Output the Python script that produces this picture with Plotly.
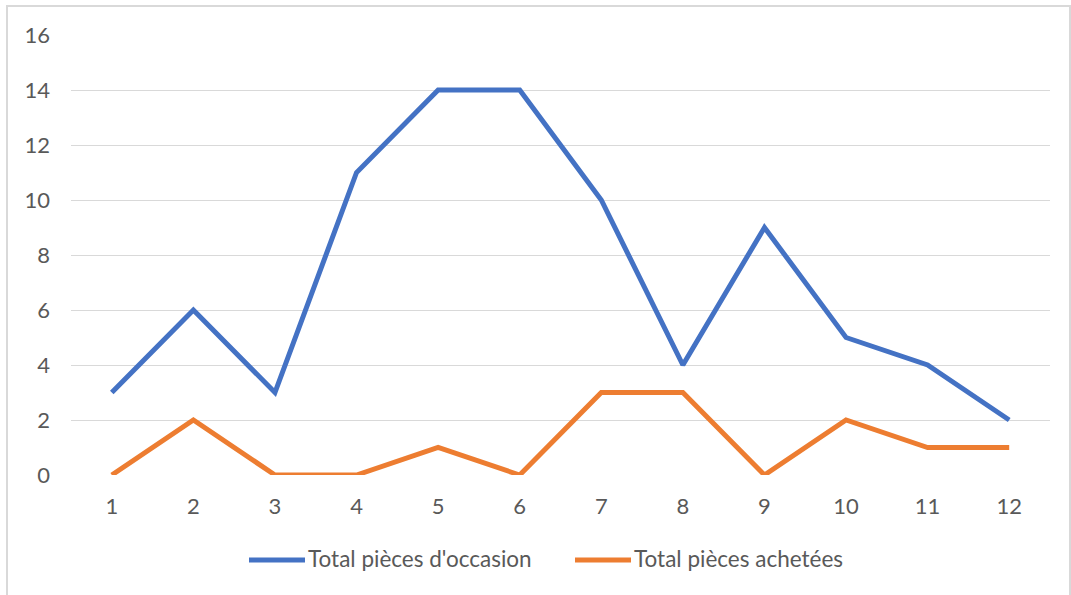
import plotly.graph_objects as go

# Monthly totals
months = ["1", "2", "3", "4", "5", "6", "7", "8", "9", "10", "11", "12"]
occasion = [3, 6, 3, 11, 14, 14, 10, 4, 9, 5, 4, 2]
achetees = [0, 2, 0, 0, 1, 0, 3, 3, 0, 2, 1, 1]
series_names = ["Total pièces d'occasion", "Total pièces achetées"]
series_colors = ["#4472C4", "#ED7D31"]
y_ticks = [0, 2, 4, 6, 8, 10, 12, 14, 16]

W, H = 1071, 595
ML, MR, MT, MB = 71, 21, 35, 120
plot_w = W - ML - MR
plot_h = H - MT - MB
TEXT = "#595959"
FONT = "Lato, 'Open Sans', sans-serif"
TICKFONT = dict(family=FONT, size=22, color=TEXT)


def px_x(px):
    return (px - ML) / plot_w


def px_y(py):
    return (H - MB - py) / plot_h


fig = go.Figure()
for name, vals, col in zip(series_names, [occasion, achetees], series_colors):
    fig.add_trace(go.Scatter(x=months, y=vals, mode="lines", name=name,
                             line=dict(color=col, width=5), showlegend=False))

# Legend drawn as line keys + text, below the plot
legend_keys = [(249, 305), (575, 631)]
shapes = [dict(type="rect", xref="paper", yref="paper",
               x0=px_x(7), x1=px_x(1070), y0=px_y(605), y1=px_y(6),
               line=dict(color="#D9D9D9", width=2), layer="below")]
annotations = []
for (x0, x1), name, col in zip(legend_keys, series_names, series_colors):
    shapes.append(dict(type="line", xref="paper", yref="paper",
                       x0=px_x(x0), x1=px_x(x1), y0=px_y(560), y1=px_y(560),
                       line=dict(color=col, width=5)))
    annotations.append(dict(xref="paper", yref="paper", x=px_x(x1 + 1), y=px_y(558),
                            xanchor="left", yanchor="middle", showarrow=False,
                            text=name, font=dict(family=FONT, size=22.5, color=TEXT)))

fig.update_layout(
    width=W, height=H,
    margin=dict(l=ML, r=MR, t=MT, b=MB),
    paper_bgcolor="white", plot_bgcolor="white",
    font=dict(family=FONT, size=20, color=TEXT),
    showlegend=False,
    xaxis=dict(type="category", range=[-0.5, 11.5], showgrid=False, showline=False,
               zeroline=False, ticks="", ticklabelstandoff=16, tickfont=TICKFONT),
    yaxis=dict(range=[0, 16], tickvals=y_ticks, showgrid=True, gridcolor="#D9D9D9",
               gridwidth=1, zeroline=False, showline=False, ticks="",
               ticklabelstandoff=20, tickfont=TICKFONT),
    shapes=shapes,
    annotations=annotations,
)

fig.write_html("out.html")
